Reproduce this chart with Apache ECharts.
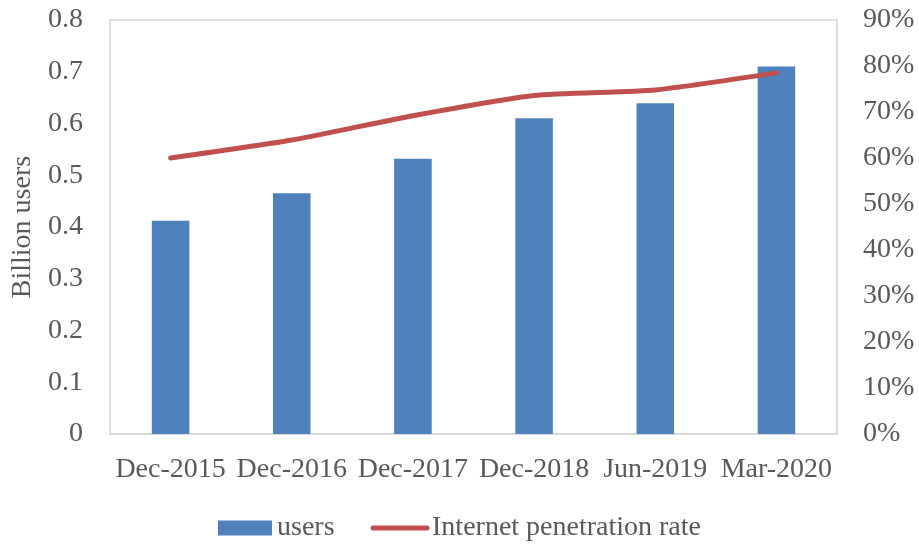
<!DOCTYPE html>
<html>
<head>
<meta charset="utf-8">
<script src="https://cdn.jsdelivr.net/npm/echarts@6/dist/echarts.min.js"></script>
<style>
  html, body { margin: 0; padding: 0; background: #fff; }
  #chart { width: 919px; height: 544px; }
</style>
</head>
<body>
<div id="chart"></div>
<script>
// users (billion) bars + internet penetration rate (%) line on right axis
const categories = ['Dec-2015', 'Dec-2016', 'Dec-2017', 'Dec-2018', 'Jun-2019', 'Mar-2020'];
const users = [0.412, 0.465, 0.532, 0.610, 0.639, 0.710];
const penetration = [60.0, 63.9, 69.2, 73.6, 74.8, 78.5];

const FONT = '"Liberation Serif", "Times New Roman", serif';
const TXT = '#595959';
const FS = 28;

const chart = echarts.init(document.getElementById('chart'), null, { renderer: 'canvas' });

chart.setOption({
  backgroundColor: '#fff',
  animation: false,
  textStyle: { fontFamily: FONT },
  grid: {
    left: 110, right: 82, top: 20, bottom: 110,
    outerBoundsMode: 'none',
    containLabel: false,
    show: true, borderColor: '#BFBFBF', borderWidth: 1,
  },
  legend: {
    bottom: -3,
    left: 'center',
    itemWidth: 54,
    itemHeight: 15,
    itemGap: 36,
    textStyle: { color: TXT, fontSize: FS, fontFamily: FONT },
    data: [
      { name: 'users', icon: 'rect' },
      { name: 'Internet penetration rate', itemStyle: { opacity: 0 }, lineStyle: { width: 5, color: '#C0504D' } },
    ],
  },
  xAxis: {
    type: 'category',
    data: categories,
    axisLine: { lineStyle: { color: '#D9D9D9', width: 2 } },
    axisTick: { show: false },
    axisLabel: { color: TXT, fontSize: FS, fontFamily: FONT, margin: 22, interval: 0 },
    splitLine: { show: false },
  },
  yAxis: [
    {
      type: 'value',
      min: 0, max: 0.8, interval: 0.1,
      name: 'Billion users',
      nameLocation: 'middle',
      nameGap: 73,
      nameTextStyle: { color: TXT, fontSize: FS, fontFamily: FONT },
      axisLine: { show: false },
      axisTick: { show: false },
      axisLabel: { color: TXT, fontSize: FS, fontFamily: FONT, margin: 27 },
      splitLine: { show: false },
    },
    {
      type: 'value',
      min: 0, max: 90, interval: 10,
      axisLine: { show: false },
      axisTick: { show: false },
      axisLabel: { color: TXT, fontSize: FS, fontFamily: FONT, margin: 26, formatter: '{value}%' },
      splitLine: { show: false },
    },
  ],
  series: [
    {
      name: 'users',
      type: 'bar',
      yAxisIndex: 0,
      data: users,
      barWidth: '31%',
      itemStyle: { color: '#4F81BD' },
    },
    {
      name: 'Internet penetration rate',
      type: 'line',
      yAxisIndex: 1,
      data: penetration,
      smooth: 0.2,
      symbol: 'none',
      lineStyle: { color: '#C0504D', width: 5, cap: 'round' },
      itemStyle: { color: '#C0504D' },
    },
  ],
});
</script>
</body>
</html>
